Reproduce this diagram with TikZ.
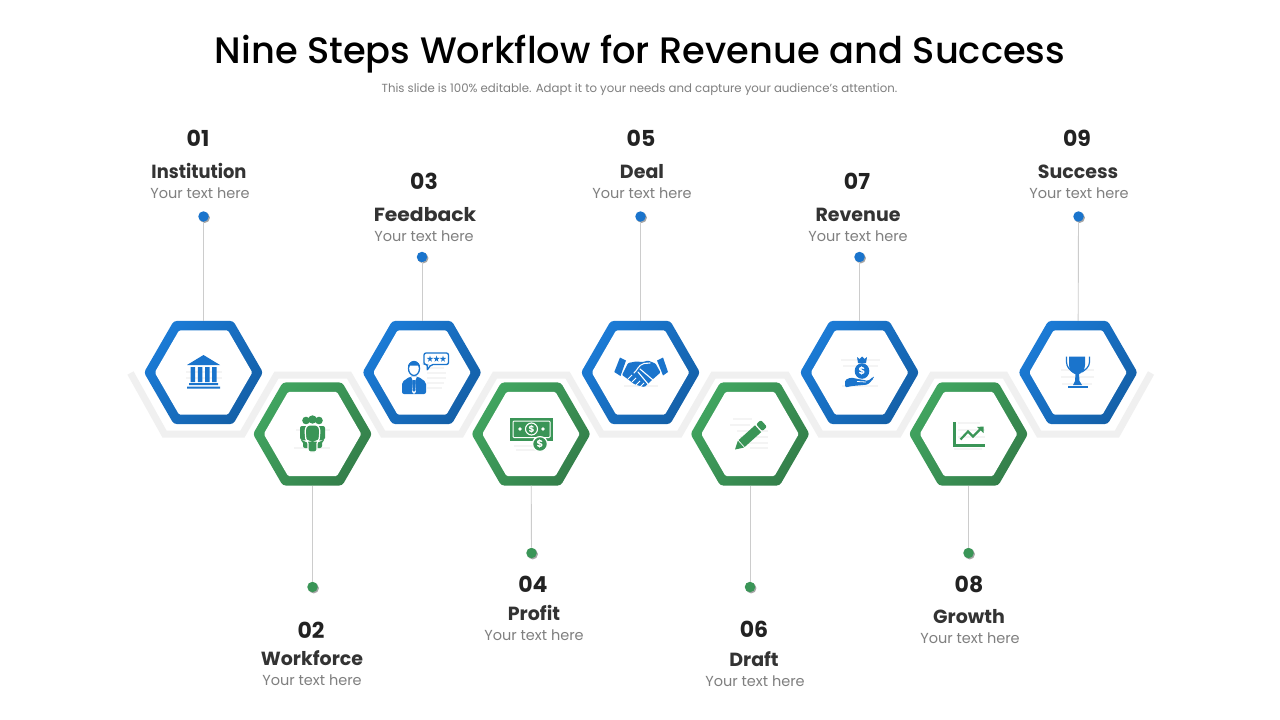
\documentclass[tikz,border=0pt]{standalone}
\usepackage{fontspec}
\usepackage{graphicx}
\setmainfont{Poppins}
\newfontfamily\titlef{Poppins Medium}
\usetikzlibrary{shapes.geometric,shadows}
\definecolor{bluea}{HTML}{1B7BD6}
\definecolor{blueb}{HTML}{1460A8}
\definecolor{bluei}{HTML}{1A74CC}
\definecolor{greena}{HTML}{41A560}
\definecolor{greenb}{HTML}{347F4A}
\definecolor{greeni}{HTML}{3A9557}
\definecolor{bandc}{HTML}{F0F0F0}
\definecolor{linec}{HTML}{CCCCCC}
\definecolor{faintc}{HTML}{F4F4F4}
\definecolor{numc}{HTML}{222222}
\definecolor{namec}{HTML}{333333}
\definecolor{subc}{HTML}{7F7F7F}
\tikzset{
  hexbase/.style={shape=regular polygon,regular polygon sides=6,inner sep=0pt,outer sep=0pt,rounded corners=3pt},
  hexblue/.style={hexbase,minimum size=119pt,draw=none,shading=axis,top color=bluea,bottom color=blueb,shading angle=50},
  hexgreen/.style={hexbase,minimum size=119pt,draw=none,shading=axis,top color=greena,bottom color=greenb,shading angle=50},
  hexinner/.style={hexbase,minimum size=97.5pt,fill=white,draw=none,rounded corners=1.5pt},
  dotblue/.style={circle,fill=bluei,minimum size=10.5pt,inner sep=0pt,drop shadow={shadow xshift=1.2pt,shadow yshift=-1.2pt,opacity=.35,fill=black}},
  dotgreen/.style={circle,fill=greeni,minimum size=10.5pt,inner sep=0pt,drop shadow={shadow xshift=1.2pt,shadow yshift=-1.2pt,opacity=.35,fill=black}},
  conn/.style={draw=linec,line width=.9pt},
  band/.style={draw=bandc,line width=7pt,line join=miter},
  numtxt/.style={anchor=base,inner sep=0pt,text=numc,font=\fontsize{22}{24}\selectfont\bfseries},
  nametxt/.style={anchor=base,inner sep=0pt,text=namec,font=\fontsize{19}{22}\selectfont\bfseries},
  subtxt/.style={anchor=base,inner sep=0pt,text=subc,font=\fontsize{14.5}{18}\selectfont},
  faint/.style={draw=faintc,line width=2pt},
  dollar/.style={inner sep=0pt,text=white,font=\fontsize{10}{10}\selectfont\bfseries},
}
\newcommand\stepitem[9]{%
  \node[numtxt] (num#1) at (#4,#5) {#2};
  \node[nametxt] (name#1) at (#6,#7) {#3};
  \node[subtxt] (sub#1) at (#8,#9) {Your text here};
}
\begin{document}
\begin{tikzpicture}[x=1pt,y=-1pt]
\useasboundingbox (0,0) rectangle (1280,720);
\fill[white] (0,0) rectangle (1280,720);
% title
\node[anchor=base,inner sep=0pt,text=black,font=\titlef\fontsize{36.8}{44}\selectfont] (title) at (640,63) {Nine Steps Workflow for Revenue and Success};
\node[anchor=base,inner sep=0pt,text=subc,font=\fontsize{11.75}{14}\selectfont] (subtitle) at (639.5,92.5) {This slide is 100\% editable. Adapt it to your needs and capture your audience's attention.};
% zigzag band
\draw[band] (130.5,373) -- (164.5,434) -- (242.5,434) -- (276.5,375) -- (349,375) -- (383,434) -- (461,434) -- (495,375) -- (567.5,375) -- (601.5,434) -- (679.5,434) -- (713.5,375) -- (786.5,375) -- (820.5,434) -- (898.5,434) -- (932.5,375) -- (1005,375) -- (1039,434) -- (1117,434) -- (1151,373);
% hexagons
\foreach \n/\x in {1/203.5,3/422,5/640.5,7/859.5,9/1078}{
  \node[hexblue] (hex\n) at (\x,372.5) {};
  \node[hexinner] (inn\n) at (\x,372.5) {};
}
\foreach \n/\x in {2/312.5,4/531,6/750,8/968.5}{
  \node[hexgreen] (hex\n) at (\x,434) {};
  \node[hexinner] (inn\n) at (\x,434) {};
}
% dots and connectors
\foreach \n/\x/\y in {1/203.5/216.5,3/422/257,5/640.5/216.5,7/859.5/257,9/1078.5/216.5}{
  \node[dotblue] (dot\n) at (\x,\y) {};
}
\foreach \n/\x/\y in {2/312.5/587,4/531.5/553,6/750/587,8/968.5/553}{
  \node[dotgreen] (dot\n) at (\x,\y) {};
}
\foreach \n in {1,...,9}{ \draw[conn] (dot\n) -- (hex\n); }
% texts
\stepitem{1}{01}{\scalebox{.94}[1]{Institution}}{198}{146}{199}{178}{200}{198}
\stepitem{2}{02}{Workforce}{311}{638}{312}{665}{312}{685}
\stepitem{3}{03}{\scalebox{1.07}[1]{Feedback}}{424}{189}{425}{221}{424}{241}
\stepitem{4}{04}{Profit}{533}{592}{534}{620}{534}{640}
\stepitem{5}{05}{Deal}{641}{146}{642}{178}{642}{198}
\stepitem{6}{06}{Draft}{754}{637}{754}{666}{755}{686}
\stepitem{7}{07}{Revenue}{857}{189}{858}{221}{858}{241}
\stepitem{8}{08}{Growth}{969}{592}{969}{623}{970}{643}
\stepitem{9}{09}{Success}{1077}{146}{1078}{178}{1079}{198}
% ---- icon 1: bank
\draw[faint] (186,372)--(222,372) (186,378)--(222,378);
\fill[bluei] (203.5,355)--(220,365)--(187,365)--cycle;
\fill[bluei] (190.5,367)--(195,367)--(195,382)--(190.5,382)--cycle (197.8,367)--(202.3,367)--(202.3,382)--(197.8,382)--cycle (205,367)--(209.5,367)--(209.5,382)--(205,382)--cycle (212.2,367)--(216.7,367)--(216.7,382)--(212.2,382)--cycle;
\fill[bluei] (189,383)--(218,383)--(218,385)--(189,385)--cycle (187,386.5)--(220,386.5)--(220,388.5)--(187,388.5)--cycle;
% ---- icon 2: group
\draw[faint] (296,430)--(330,430) (294,448)--(330,448);
\fill[greeni] (306,420.5) circle (3.8) (319,420.5) circle (3.8) (312.5,419.5) circle (4.2);
\fill[greeni,rounded corners=2pt] (300,426)--(325,426)--(325,440)--(322,441)--(322,448)--(303,448)--(303,441)--(300,440)--cycle;
\draw[white,line width=1.2pt,rounded corners=2.5pt,fill=greeni] (307,425)--(318,425)--(320,430)--(319,441)--(317,441)--(317,452)--(308,452)--(308,441)--(306,441)--(305,430)--cycle;
% ---- icon 3: person with bubble
\draw[faint] (427,368)--(444,368) (427,373)--(446,373) (427,378)--(446,378) (427,383)--(444,383) (427,388)--(442,388);
\fill[bluei,rounded corners=2pt] (402,394)--(402,382)--(410,376.5)--(418,376.5)--(426,382)--(426,394)--cycle;
\fill[white] (411,376.5)--(417,376.5)--(415,381)--(415.8,392)--(414,394)--(412.2,392)--(413,381)--cycle;
\fill[bluei] (413.2,380)--(414.8,380)--(415.3,390)--(414,392)--(412.7,390)--cycle;
\draw[bluei,line width=1.3pt,fill=white] (414,368.5) ellipse (5.5 and 7);
\fill[bluei] (408,368.5)..controls (406.5,359) and (421.5,359) ..(420,368.5)--(418,365.5)--(410,365.5)--cycle;
\draw[bluei,line width=1.3pt,fill=white,rounded corners=2pt] (424,353)--(448.5,353)--(448.5,364.5)--(431,364.5)--(427,370.5)--(427.5,364.5)--(424,364.5)--cycle;
\fill[bluei,shift={(430,359)}] (-90:3.3)--(54:3.3)--(198:3.3)--(-18:3.3)--(126:3.3)--cycle;
\fill[bluei,shift={(436.5,359)}] (-90:3.3)--(54:3.3)--(198:3.3)--(-18:3.3)--(126:3.3)--cycle;
\fill[bluei,shift={(443,359)}] (-90:3.3)--(54:3.3)--(198:3.3)--(-18:3.3)--(126:3.3)--cycle;
% ---- icon 4: money
\draw[faint] (514,446)--(534,446) (516,450)--(536,450);
\fill[greeni] (510,418) rectangle (553,440.5);
\draw[white,line width=1pt,rounded corners=1pt] (513,421)--(550,421)--(550,437.5)--(513,437.5)--cycle;
\draw[white,line width=1.1pt] (531.5,429) circle (6);
\fill[white] (520,429) circle (1.9) (543,429) circle (1.9);
\node[dollar,font=\fontsize{9}{9}\selectfont\bfseries] (mon1) at (531.5,429) {\$};
\draw[white,line width=1.2pt,fill=greeni] (540,444) circle (7.4);
\node[dollar] (mon2) at (540,444) {\$};
% ---- icon 5: handshake
\draw[faint] (624,386)--(658,386);
\fill[bluei] (620,357.5)--(626,360.5)--(620.5,376)--(614.3,372)--cycle;
\fill[bluei] (657,360.5)--(663,357.5)--(668,372)--(663,375.5)--cycle;
\fill[bluei,rounded corners=1pt] (628,363)--(636,361.5)--(643,362)--(648,360.5)--(655.5,363.5)--(660.5,372.5)--(652,380)--(644.5,387)--(640,386)--(634,384)--(627,378.5)--(622,375)--cycle;
\draw[white,line width=1.1pt,line cap=round] (634,373)..controls (637,371) and (638,365) ..(644,363.5)--(650,363);
\draw[white,line width=1.1pt,line cap=round] (640,369)--(653,380) (638,372)--(648,384);
\draw[white,line width=1pt] (628,379)--(632,375) (632,382)--(636,378) (636,385)--(640,381) (640,387)--(644,383);
% ---- icon 6: pencil
\draw[faint] (733,419)--(752,419) (730,425)--(750,425) (737,431)--(768,431) (740,437)--(768,437) (745,443)--(768,443) (750,448)--(768,448);
\begin{scope}[shift={(735,449.5)},rotate=42]
\fill[greeni] (0,0)--(8,-4.6)--(8,4.6)--cycle;
\fill[greeni] (9,-4.6)--(31,-4.6)--(31,4.6)--(9,4.6)--cycle;
\fill[greeni,rounded corners=2pt] (32.5,-4.6)--(39,-4.6)--(39,4.6)--(32.5,4.6)--cycle;
\end{scope}
% ---- icon 7: money bag on hand
\draw[faint] (841,360)--(880,360) (843,366)--(878,366) (842,386)--(878,386);
\fill[bluei] (857,357)--(859.5,359)--(862,356.5)--(864.5,359)--(867,357)--(866,363)--(858,363)--cycle;
\fill[bluei] (862,371) ellipse (7.3 and 7.8);
\node[dollar] (bag) at (862,371) {\$};
\fill[bluei,rounded corners=1.5pt] (845,380)--(851,377.5)--(858,379)--(864,380)--(868,381)--(873.5,376.5)--(874,378)--(868,384.5)--(858,385.5)--(852,386)--(845,387.5)--cycle;
\draw[white,line width=.8pt] (857,381.5)--(866,382);
% ---- icon 8: chart
\draw[faint] (958,423)--(980,423) (958,430)--(985,430) (958,437)--(985,437) (954,449)--(982,449);
\draw[greeni,line width=2.8pt,line join=miter] (954.5,422)--(954.5,445.5)--(985,445.5);
\draw[greeni,line width=2.2pt] (960.5,439.5)--(968,431.5)--(973,436.5)--(980,429.5);
\fill[greeni] (983.5,426.5)--(983.5,433)--(977,427)--cycle;
% ---- icon 9: trophy
\draw[faint] (1061,370)--(1094,370) (1061,377)--(1094,377) (1062,384)--(1092,384);
\fill[bluei] (1069,356.5)--(1085,356.5)--(1085,365)..controls (1085,371) and (1081,374) ..(1077,374.5)..controls (1073,374) and (1069,371) ..(1069,365)--cycle;
\draw[bluei,line width=1.2pt] (1066.5,356.5)--(1066.5,362)..controls (1066.5,367) and (1070,370) ..(1073,372);
\draw[bluei,line width=1.2pt] (1089.5,356.5)--(1089.5,362)..controls (1089.5,367) and (1085,370) ..(1082,372);
\fill[bluei] (1075.5,374)--(1079,374)--(1079.5,381)--(1082,385)--(1073,385)--(1075,381)--cycle;
\fill[bluei] (1068,385.5)--(1088,385.5)--(1088,388)--(1068,388)--cycle;
\end{tikzpicture}
\end{document}
